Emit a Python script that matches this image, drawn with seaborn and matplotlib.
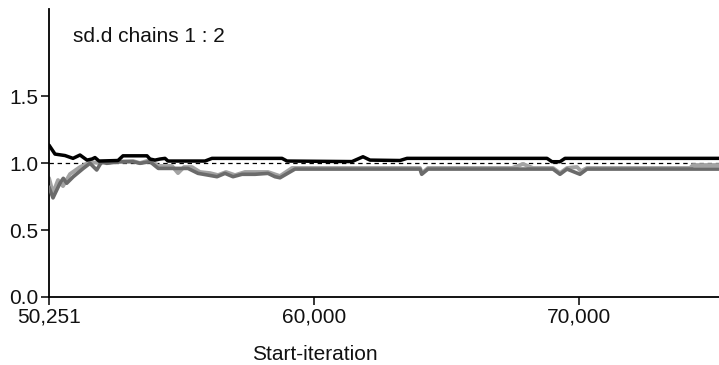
import matplotlib
matplotlib.use("Agg")
import matplotlib.pyplot as plt
import seaborn as sns
import pandas as pd

# ---- data ----
black_iter = [50001, 50227, 50605, 50907, 51171, 51435, 51624, 51737, 51888, 52605,
              52794, 53700, 53813, 54002, 54190, 54379, 54492, 55889, 56153, 58795,
              58983, 61436, 61851, 62116, 63248, 63512, 68796, 68984, 69286, 69475, 75287]
black_val = [1.134, 1.067, 1.056, 1.035, 1.060, 1.022, 1.030, 1.041, 1.015, 1.019,
             1.054, 1.054, 1.030, 1.022, 1.030, 1.035, 1.015, 1.015, 1.035, 1.035,
             1.015, 1.011, 1.047, 1.022, 1.019, 1.035, 1.035, 1.010, 1.010, 1.035, 1.035]

dark_iter = [50001, 50152, 50416, 50541, 50669, 50918, 51295, 51548, 51801, 51990,
             52179, 52681, 53183, 53435, 53813, 54126, 54492, 55247, 55624, 56002,
             56342, 56643, 56945, 57285, 57775, 58266, 58530, 58719, 59285, 64003,
             64067, 64304, 69022, 69286, 69550, 70041, 70305, 75287]
dark_val = [0.82, 0.74, 0.85, 0.886, 0.849, 0.898, 0.960, 0.998, 0.948, 1.010,
            0.998, 1.010, 1.010, 0.998, 1.010, 0.960, 0.960, 0.960, 0.923, 0.910,
            0.898, 0.923, 0.898, 0.916, 0.916, 0.923, 0.898, 0.890, 0.955, 0.955,
            0.916, 0.955, 0.955, 0.916, 0.955, 0.916, 0.955, 0.955]

light_iter = [50001, 50152, 50341, 50529, 50794, 51171, 51548, 51926, 52303, 53171,
              53435, 53813, 54115, 54643, 54870, 55096, 55398, 55700, 56077, 56379,
              56681, 57021, 57398, 58266, 58719, 59172, 64003, 64078, 64304, 67475,
              67890, 68267, 69022, 69286, 69550, 69928, 70079, 70305, 74192, 74306, 75287]
light_val = [0.888, 0.776, 0.873, 0.828, 0.918, 0.970, 1.007, 1.000, 1.007, 1.015,
             1.000, 1.022, 0.978, 0.978, 0.925, 0.970, 0.970, 0.933, 0.925, 0.910,
             0.933, 0.910, 0.933, 0.933, 0.903, 0.963, 0.963, 0.925, 0.963, 0.963,
             0.993, 0.963, 0.963, 0.925, 0.963, 0.970, 0.940, 0.963, 0.963, 0.985, 0.985]

ref_level = 1.0
x_ticks = [50001, 60000, 70000]
x_tick_labels = ["50,251", "60,000", "70,000"]
y_ticks = [0.0, 0.5, 1.0, 1.5]
y_tick_labels = ["0.0", "0.5", "1.0", "1.5"]
title_text = "sd.d chains 1 : 2"
x_label = "Start-iteration"

sns.set_style("white")
plt.rcParams["font.family"] = ["Liberation Sans", "DejaVu Sans"]

fig = plt.figure(figsize=(7.19, 3.65), dpi=100)
ax = fig.add_axes([49 / 719, 68 / 365, 670 / 719, 288 / 365])

df_light = pd.DataFrame({"it": light_iter, "val": light_val})
df_dark = pd.DataFrame({"it": dark_iter, "val": dark_val})
df_black = pd.DataFrame({"it": black_iter, "val": black_val})

ax.axhline(ref_level, color="black", lw=0.9, ls=(0, (3.5, 3)), zorder=1)
sns.lineplot(data=df_light, x="it", y="val", ax=ax, color="#a3a3a3", lw=2.8,
             sort=False, estimator=None, zorder=2)
sns.lineplot(data=df_dark, x="it", y="val", ax=ax, color="#6b6b6b", lw=2.6,
             sort=False, estimator=None, zorder=3)
sns.lineplot(data=df_black, x="it", y="val", ax=ax, color="black", lw=2.5,
             sort=False, estimator=None, zorder=4)

ax.set_xlim(50001, 75287)
ax.set_ylim(0, 2.15)
ax.set_xticks(x_ticks)
ax.set_xticklabels(x_tick_labels)
ax.set_yticks(y_ticks)
ax.set_yticklabels(y_tick_labels)
ax.tick_params(axis="both", direction="out", length=5.5, width=1.1, color="black",
               labelsize=15, labelcolor="#111111", pad=2, left=True, bottom=True)

for s in ["top", "right"]:
    ax.spines[s].set_visible(False)
for s in ["left", "bottom"]:
    ax.spines[s].set_color("black")
    ax.spines[s].set_linewidth(1.3)

ax.set_ylabel("")
ax.set_xlabel(x_label, fontsize=15, color="#111111")
ax.xaxis.set_label_coords((315 - 49) / 670, -0.165)

ax.text(0.036, (297 - 36) / 288, title_text, transform=ax.transAxes,
        fontsize=15, va="center", ha="left", color="#111111")

fig.savefig("out.png", dpi=100)
